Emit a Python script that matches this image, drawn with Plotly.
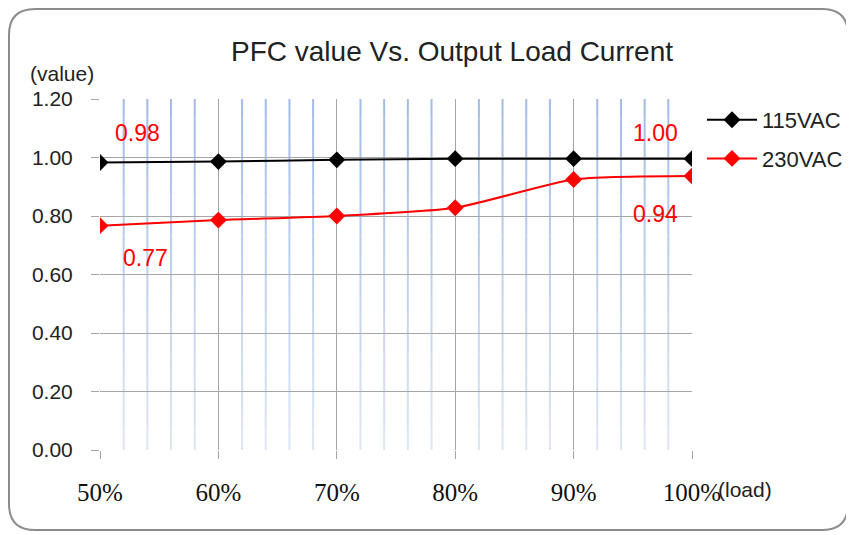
import plotly.graph_objects as go

# ---- data ----
load_pct = [50, 60, 70, 80, 90, 100]
pfc_115 = [0.983, 0.986, 0.992, 0.996, 0.996, 0.996]
pfc_230 = [0.767, 0.786, 0.800, 0.828, 0.925, 0.937]
series_names = ["115VAC", "230VAC"]
x_ticks = [50, 60, 70, 80, 90, 100]
y_ticks = [0.0, 0.2, 0.4, 0.6, 0.8, 1.0, 1.2]

# page offset (default body margin of the html page)
OFF = 8
W, H = 854, 535
# plot area in screen pixels
SX0, SX1, SY0, SY1 = 100, 692, 99, 450
L = SX0 - OFF
T = SY0 - OFF
R = W - (SX1 - OFF)
B = H - (SY1 - OFF)
PW, PH = SX1 - SX0, SY1 - SY0

def px(xs):
    return (xs - SX0) / PW

def py(ys):
    return (SY1 - ys) / PH

SANS = "Liberation Sans"
SERIF = "Liberation Serif"

fig = go.Figure()
fig.add_trace(go.Scatter(
    x=load_pct, y=pfc_115, name=series_names[0], mode="lines+markers",
    legendgroup="a",
    line=dict(color="black", width=2, shape="spline", smoothing=0.6),
    marker=dict(symbol="diamond", size=13, color="black"),
))
fig.add_trace(go.Scatter(
    x=load_pct, y=pfc_230, name=series_names[1], mode="lines+markers",
    legendgroup="b",
    line=dict(color="#ff0000", width=2, shape="spline", smoothing=0.6),
    marker=dict(symbol="diamond", size=13, color="#ff0000"),
))

# data labels, anchored on the data points
labels = [
    (load_pct[0], pfc_115[0], 37, 29),
    (load_pct[0], pfc_230[0], 45, -32),
    (load_pct[-1], pfc_115[-1], -37, 26),
    (load_pct[-1], pfc_230[-1], -37, -38),
]
for x, y, dx, dy in labels:
    fig.add_annotation(x=x, y=y, text=f"{y:.2f}", showarrow=False,
                       xshift=dx, yshift=dy, xanchor="center", yanchor="middle",
                       font=dict(family=SANS, size=23, color="#ff0000"))

fig.add_annotation(xref="paper", yref="paper", x=px(62), y=py(74),
                   xanchor="center", yanchor="middle",
                   text="(value)", showarrow=False,
                   font=dict(family=SANS, size=21, color="#222"))
fig.add_annotation(xref="paper", yref="paper", x=px(745), y=py(489),
                   xanchor="center", yanchor="middle",
                   text="(load)", showarrow=False,
                   font=dict(family=SANS, size=21, color="#222"))

# minor vertical grid lines with a top-to-bottom fade (blue -> pale blue)
top_rgb = (160, 186, 232)
bot_rgb = (222, 231, 245)
NSEG = 18
minor_x = [v for v in range(x_ticks[0], x_ticks[-1], 2) if v % 10 != 0]
for i in range(NSEG):
    t = (i + 0.5) / NSEG
    c = tuple(round(b + (a - b) * t) for a, b in zip(top_rgb, bot_rgb))
    col = f"rgb{c}"
    for mx in minor_x:
        fig.add_shape(type="line", xref="x", yref="paper",
                      x0=mx, x1=mx, y0=i / NSEG, y1=(i + 1) / NSEG,
                      line=dict(color=col, width=2), layer="below")

# rounded border (screen coords; left/top edges limited by page offset)
x0, y0, x1, y1, r = 9, 9, 848, 530, 26
path = (f"M {px(x0+r)} {py(y0)} L {px(x1-r)} {py(y0)} "
        f"Q {px(x1)} {py(y0)} {px(x1)} {py(y0+r)} "
        f"L {px(x1)} {py(y1-r)} Q {px(x1)} {py(y1)} {px(x1-r)} {py(y1)} "
        f"L {px(x0+r)} {py(y1)} Q {px(x0)} {py(y1)} {px(x0)} {py(y1-r)} "
        f"L {px(x0)} {py(y0+r)} Q {px(x0)} {py(y0)} {px(x0+r)} {py(y0)} Z")
fig.add_shape(type="path", xref="paper", yref="paper", path=path,
              line=dict(color="#8c8c8c", width=2), layer="below")

fig.update_layout(
    width=W, height=H,
    margin=dict(l=L, r=R, t=T, b=B, autoexpand=False),
    paper_bgcolor="white", plot_bgcolor="white",
    title=dict(text="PFC value Vs. Output Load Current",
               xref="container", x=(452 - OFF) / W, xanchor="center",
               yref="container", y=1 - (51 - OFF) / H, yanchor="middle",
               font=dict(family=SANS, size=28, color="#222")),
    legend=dict(x=px(702), y=py(99), xanchor="left", yanchor="top",
                font=dict(family=SANS, size=22, color="#222"),
                bgcolor="rgba(0,0,0,0)", tracegroupgap=7, itemwidth=50),
    showlegend=True,
)
fig.update_xaxes(
    range=[50, 100], tickvals=x_ticks, ticktext=[f"{v}%" for v in x_ticks],
    showgrid=True, gridcolor="#a6a6a6", gridwidth=1,
    ticks="outside", ticklen=8, tickcolor="#a6a6a6",
    showline=False, zeroline=False, ticklabelstandoff=12,
    tickfont=dict(family=SERIF, size=25, color="#111"),
)
fig.update_yaxes(
    range=[0, 1.2], tickvals=y_ticks, tickformat=".2f",
    showgrid=True, gridcolor="#a6a6a6", gridwidth=1,
    ticks="outside", ticklen=8, tickcolor="#a6a6a6",
    showline=False, zeroline=False, ticklabelstandoff=14,
    tickfont=dict(family=SANS, size=21, color="#222"),
)

fig.write_html("out.html")
